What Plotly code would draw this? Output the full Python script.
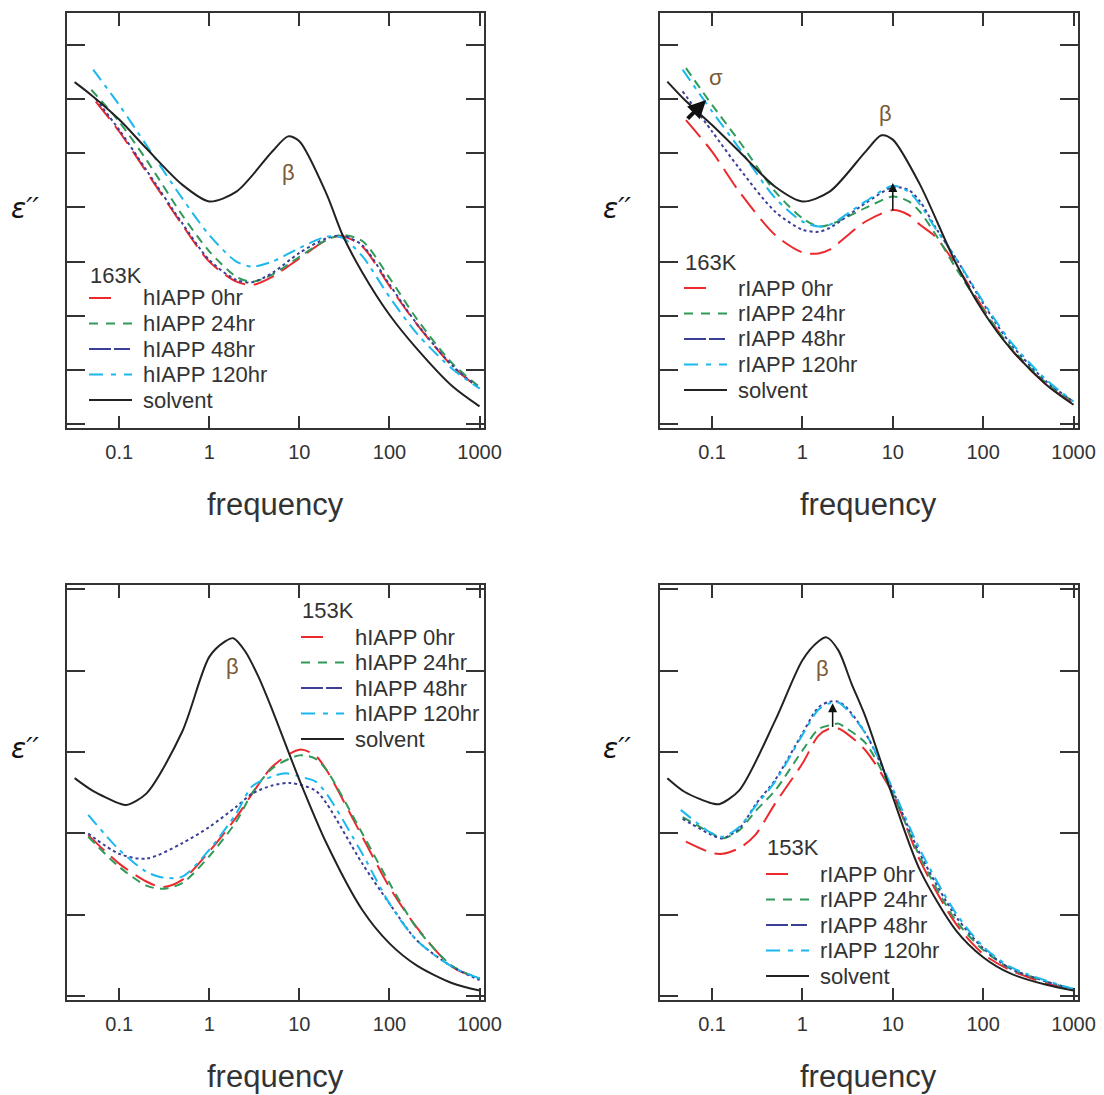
import math
import plotly.graph_objects as go

# ---------------- data (frequency, epsilon'') ----------------
# Panel A: 163K hIAPP
a_sol_f = [0.032, 0.05, 0.1, 0.2, 0.5, 1, 2, 5, 7.5, 10, 20, 30, 50, 100, 200, 500, 1000]
a_sol_e = [6.31, 6.06, 5.62, 5.09, 4.42, 4.11, 4.29, 5.03, 5.31, 5.22, 4.25, 3.50, 2.80, 2.02, 1.40, 0.70, 0.33]
a_f = [0.1, 0.2, 0.5, 1, 2, 3, 5, 10, 20, 30, 50, 100, 200, 500, 1000]
a_0_f0, a_0_e0 = 0.055, 5.95
a_0_e = [5.40, 4.66, 3.68, 3.00, 2.63, 2.57, 2.72, 3.06, 3.40, 3.47, 3.28, 2.55, 1.85, 1.07, 0.66]
a_24_f0, a_24_e0 = 0.049, 6.17
a_24_e = [5.58, 4.88, 3.86, 3.19, 2.72, 2.63, 2.76, 3.09, 3.40, 3.49, 3.38, 2.70, 1.95, 1.12, 0.69]
a_48_f0, a_48_e0 = 0.055, 6.00
a_48_e = [5.43, 4.69, 3.71, 3.03, 2.66, 2.62, 2.79, 3.16, 3.43, 3.48, 3.30, 2.58, 1.86, 1.08, 0.66]
a_120_f0, a_120_e0 = 0.0514, 6.54
a_120_e = [5.89, 5.15, 4.17, 3.49, 3.00, 2.91, 3.00, 3.25, 3.46, 3.44, 3.10, 2.35, 1.68, 1.02, 0.66]

# Panel B: 163K rIAPP
b_sol_f = [0.032, 0.05, 0.1, 0.2, 0.5, 1, 2, 5, 7.5, 10, 20, 50, 100, 200, 500, 1000]
b_sol_e = [6.32, 5.98, 5.52, 5.03, 4.38, 4.11, 4.29, 5.03, 5.33, 5.25, 4.42, 2.97, 2.08, 1.40, 0.73, 0.36]
b_f = [0.1, 0.2, 0.5, 1, 1.5, 2, 5, 10, 15, 20, 30, 50, 100, 200, 500, 1000]
b_0_f0, b_0_e0 = 0.0514, 5.61
b_0_e = [5.03, 4.29, 3.49, 3.17, 3.15, 3.22, 3.74, 3.95, 3.86, 3.68, 3.45, 2.94, 2.14, 1.40, 0.73, 0.39]
b_24_f0, b_24_e0 = 0.0514, 6.57
b_24_e = [5.89, 5.22, 4.29, 3.80, 3.65, 3.68, 3.99, 4.20, 4.11, 3.92, 3.49, 2.88, 2.11, 1.43, 0.76, 0.42]
b_48_f0, b_48_e0 = 0.0472, 6.14
b_48_e = [5.40, 4.72, 3.92, 3.59, 3.55, 3.62, 4.08, 4.37, 4.32, 4.11, 3.62, 3.06, 2.23, 1.49, 0.79, 0.42]
b_120_f0, b_120_e0 = 0.0472, 6.54
b_120_e = [5.77, 5.09, 4.17, 3.74, 3.65, 3.68, 4.11, 4.40, 4.29, 4.05, 3.60, 3.06, 2.26, 1.53, 0.82, 0.42]

# Panel C: 153K hIAPP
c_sol_f = [0.032, 0.05, 0.1, 0.12, 0.2, 0.5, 1, 1.5, 1.85, 2.5, 3.5, 5, 10, 20, 50, 100, 200, 500, 1000]
c_sol_e = [2.68, 2.53, 2.37, 2.35, 2.49, 3.25, 4.17, 4.36, 4.40, 4.24, 3.93, 3.52, 2.66, 1.88, 1.06, 0.65, 0.38, 0.16, 0.07]
c_f = [0.0453, 0.1, 0.2, 0.3, 0.5, 1, 2, 3, 5, 10, 15, 20, 50, 100, 200, 500, 1000]
c_0_e = [1.98, 1.63, 1.41, 1.34, 1.43, 1.78, 2.20, 2.49, 2.82, 3.03, 2.96, 2.78, 1.96, 1.34, 0.85, 0.36, 0.22]
c_24_e = [1.96, 1.59, 1.36, 1.32, 1.39, 1.72, 2.15, 2.50, 2.80, 2.96, 2.92, 2.78, 2.00, 1.39, 0.84, 0.37, 0.22]
c_48_f = [0.0453, 0.1, 0.2, 0.5, 1, 2, 3, 5, 8, 15, 20, 50, 100, 200, 500, 1000]
c_48_e = [2.00, 1.75, 1.69, 1.88, 2.08, 2.33, 2.49, 2.59, 2.62, 2.53, 2.37, 1.63, 1.14, 0.69, 0.36, 0.20]
c_120_f = [0.0453, 0.1, 0.2, 0.3, 0.5, 1, 2, 3, 5, 7, 10, 15, 20, 50, 100, 200, 500, 1000]
c_120_e = [2.23, 1.80, 1.53, 1.46, 1.47, 1.80, 2.25, 2.58, 2.70, 2.74, 2.70, 2.64, 2.49, 1.75, 1.14, 0.69, 0.36, 0.22]

# Panel D: 153K rIAPP
d_sol_f = [0.032, 0.05, 0.1, 0.12, 0.2, 0.5, 1, 1.5, 1.85, 2.5, 3.5, 5, 10, 20, 50, 100, 200, 500, 1000]
d_sol_e = [2.68, 2.51, 2.37, 2.36, 2.53, 3.39, 4.13, 4.36, 4.41, 4.25, 3.84, 3.43, 2.45, 1.55, 0.81, 0.48, 0.28, 0.14, 0.07]
d_f = [0.1, 0.13, 0.2, 0.3, 0.5, 1, 1.5, 2, 2.5, 3, 5, 10, 20, 50, 100, 200, 500, 1000]
d_0_f0, d_0_e0 = 0.0514, 1.90
d_0_e = [1.76, 1.75, 1.82, 1.98, 2.37, 2.86, 3.20, 3.29, 3.29, 3.24, 3.02, 2.49, 1.67, 0.89, 0.52, 0.32, 0.16, 0.07]
d_24_f0, d_24_e0 = 0.0472, 2.20
d_24_e = [2.00, 1.94, 2.04, 2.27, 2.53, 3.02, 3.28, 3.33, 3.35, 3.30, 3.11, 2.49, 1.71, 0.93, 0.57, 0.34, 0.18, 0.08]
d_48_f0, d_48_e0 = 0.0472, 2.18
d_48_e = [1.98, 1.94, 2.06, 2.35, 2.66, 3.23, 3.55, 3.62, 3.62, 3.56, 3.23, 2.53, 1.75, 0.98, 0.59, 0.34, 0.18, 0.09]
d_120_f0, d_120_e0 = 0.045, 2.29
d_120_e = [2.00, 1.96, 2.08, 2.33, 2.64, 3.21, 3.52, 3.60, 3.61, 3.54, 3.23, 2.55, 1.80, 1.02, 0.61, 0.36, 0.19, 0.09]

tick_vals = [0.1, 1, 10, 100, 1000]
tick_text = ["0.1", "1", "10", "100", "1000"]
series_keys = ["0hr", "24hr", "48hr", "120hr", "solvent"]

# ---------------- styles ----------------
FONT = "Liberation Sans, Arial, sans-serif"
TXT = "#333333"
RED, GREEN, BLUE, CYAN, BLACK = "#ec2a2e", "#2f9a5a", "#3b3f96", "#1bb8ee", "#222222"
STY = {
    "0hr": dict(color=RED, dash="22px,9px", width=2),
    "24hr": dict(color=GREEN, dash="9px,6px", width=2),
    "48hr": dict(color=BLUE, dash="dot", width=2),
    "120hr": dict(color=CYAN, dash="13px,6px,4px,6px", width=2),
    "solvent": dict(color=BLACK, width=2),
}
LEG_STY = {
    "0hr": dict(color=RED, dash="22px,30px", width=2),
    "24hr": dict(color=GREEN, dash="9px,8px", width=2),
    "48hr": dict(color=BLUE, dash="22px,3px,16px,3px", width=2),
    "120hr": dict(color=CYAN, dash="14px,8px,5px,8px", width=2),
    "solvent": dict(color=BLACK, width=2),
}

# target picture is 1104 x 1095; layout positions below are in those pixels
REF_W, REF_H = 1104, 1095
FIG_W, FIG_H = 1122, 1095
def px_x(p): return p / REF_W
def px_y(p): return 1 - p / REF_H

fig = go.Figure()

panels = [
    ("hIAPP", "163K", ("x", "y"),
     [([a_0_f0] + a_f, [a_0_e0] + a_0_e), ([a_24_f0] + a_f, [a_24_e0] + a_24_e),
      ([a_48_f0] + a_f, [a_48_e0] + a_48_e), ([a_120_f0] + a_f, [a_120_e0] + a_120_e),
      (a_sol_f, a_sol_e)], (88, 275, 298)),
    ("rIAPP", "163K", ("x2", "y2"),
     [([b_0_f0] + b_f, [b_0_e0] + b_0_e), ([b_24_f0] + b_f, [b_24_e0] + b_24_e),
      ([b_48_f0] + b_f, [b_48_e0] + b_48_e), ([b_120_f0] + b_f, [b_120_e0] + b_120_e),
      (b_sol_f, b_sol_e)], (683, 262, 288)),
    ("hIAPP", "153K", ("x3", "y3"),
     [(c_f, c_0_e), (c_f, c_24_e), (c_48_f, c_48_e), (c_120_f, c_120_e), (c_sol_f, c_sol_e)],
     (300, 610, 637)),
    ("rIAPP", "153K", ("x4", "y4"),
     [([d_0_f0] + d_f, [d_0_e0] + d_0_e), ([d_24_f0] + d_f, [d_24_e0] + d_24_e),
      ([d_48_f0] + d_f, [d_48_e0] + d_48_e), ([d_120_f0] + d_f, [d_120_e0] + d_120_e),
      (d_sol_f, d_sol_e)], (765, 847, 874)),
]

shapes, ann = [], []
ROW = 25.5
for prefix, temp, ax, series, (lx, ty, fy) in panels:
    ann.append(dict(text=temp, x=px_x(lx), y=px_y(ty), xref="paper", yref="paper", xanchor="left",
                    yanchor="middle", showarrow=False, font=dict(family=FONT, size=22, color=TXT)))
    for i, (key, (fx, ey)) in enumerate(zip(series_keys, series)):
        name = "solvent" if key == "solvent" else f"{prefix} {key}"
        fig.add_trace(go.Scatter(x=fx, y=ey, mode="lines", name=name, showlegend=False,
                                 line=dict(shape="spline", smoothing=0.8, **STY[key]),
                                 xaxis=ax[0], yaxis=ax[1]))
        ry = fy + i * ROW
        shapes.append(dict(type="line", xref="paper", yref="paper", x0=px_x(lx + 1), x1=px_x(lx + 44),
                           y0=px_y(ry), y1=px_y(ry), line=LEG_STY[key]))
        ann.append(dict(text=name, x=px_x(lx + 53), y=px_y(ry), xref="paper", yref="paper",
                        xanchor="left", yanchor="middle", showarrow=False,
                        font=dict(family=FONT, size=22, color=TXT)))

xdom_l = [px_x(67.3), px_x(483.5)]
xdom_r = [px_x(660.0), px_x(1077.5)]
ydom_t = [px_y(428.3), px_y(13.3)]
ydom_b = [px_y(1000.3), px_y(585.3)]

xcommon = dict(type="log", range=[-1.576, 3.044], tickvals=tick_vals, ticktext=tick_text,
               ticks="inside", ticklen=13, tickwidth=1.6, tickcolor="#333", mirror="allticks",
               showline=True, linecolor="#333", linewidth=1.6, showgrid=False, zeroline=False,
               tickfont=dict(family=FONT, size=20, color=TXT), ticklabelstandoff=5)
ycommon = dict(dtick=1, tick0=0, ticks="inside", ticklen=18, tickwidth=1.6, tickcolor="#333",
               mirror="allticks", showline=True, linecolor="#333", linewidth=1.6,
               showgrid=False, zeroline=False, showticklabels=False)

layout = dict(width=FIG_W, height=FIG_H, margin=dict(l=0, r=0, t=0, b=0),
              paper_bgcolor="white", plot_bgcolor="white", showlegend=False)
layout["xaxis"] = dict(domain=xdom_l, anchor="y", **xcommon)
layout["yaxis"] = dict(domain=ydom_t, anchor="x", range=[-0.074, 7.58], **ycommon)
layout["xaxis2"] = dict(domain=xdom_r, anchor="y2", **xcommon)
layout["yaxis2"] = dict(domain=ydom_t, anchor="x2", range=[-0.074, 7.58], **ycommon)
layout["xaxis3"] = dict(domain=xdom_l, anchor="y3", **xcommon)
layout["yaxis3"] = dict(domain=ydom_b, anchor="x3", range=[-0.05, 5.05], **ycommon)
layout["xaxis4"] = dict(domain=xdom_r, anchor="y4", **xcommon)
layout["yaxis4"] = dict(domain=ydom_b, anchor="x4", range=[-0.05, 5.05], **ycommon)
fig.update_layout(**layout)

for xc, yc in [((67.3 + 483.5) / 2, 504), ((660 + 1077.5) / 2, 504),
               ((67.3 + 483.5) / 2, 1076), ((660 + 1077.5) / 2, 1076)]:
    ann.append(dict(text="frequency", x=px_x(xc), y=px_y(yc), xref="paper", yref="paper",
                    xanchor="center", yanchor="middle", showarrow=False,
                    font=dict(family=FONT, size=31, color=TXT)))
for xc, yc in [(25, 208), (617, 208), (25, 748), (617, 748)]:
    ann.append(dict(text="<i>ε′′</i>", x=px_x(xc), y=px_y(yc), xref="paper", yref="paper",
                    xanchor="center", yanchor="middle", showarrow=False,
                    font=dict(family="DejaVu Sans, sans-serif", size=28, color="#111")))

GREEK = "#7a5a38"
beta_pos = [("x", "y", 7.5, 4.65), ("x2", "y2", 8.3, 5.74), ("x3", "y3", 1.79, 4.05), ("x4", "y4", 1.67, 4.03)]
for xa, ya, f, e in beta_pos:
    ann.append(dict(text="β", x=math.log10(f), y=e, xref=xa, yref=ya, showarrow=False,
                    font=dict(family=FONT, size=22, color=GREEK)))
ann.append(dict(text="σ", x=math.log10(0.111), y=6.39, xref="x2", yref="y2", showarrow=False,
                font=dict(family=FONT, size=22, color=GREEK)))

sigma_tail, sigma_head = (0.0517, 5.61), (0.086, 5.98)
ann.append(dict(x=math.log10(sigma_head[0]), y=sigma_head[1], ax=math.log10(sigma_tail[0]), ay=sigma_tail[1],
                xref="x2", yref="y2", axref="x2", ayref="y2", showarrow=True, arrowhead=2,
                arrowsize=0.9, arrowwidth=4, arrowcolor="#111", text=""))
ann.append(dict(x=math.log10(10), y=4.45, ax=math.log10(10), ay=3.92, xref="x2", yref="y2",
                axref="x2", ayref="y2", showarrow=True, arrowhead=2, arrowsize=1.2, arrowwidth=1.5,
                arrowcolor="#111", text=""))
ann.append(dict(x=math.log10(2.16), y=3.60, ax=math.log10(2.16), ay=3.29, xref="x4", yref="y4",
                axref="x4", ayref="y4", showarrow=True, arrowhead=2, arrowsize=1.2, arrowwidth=1.5,
                arrowcolor="#111", text=""))
fig.update_layout(annotations=ann, shapes=shapes)

fig.write_html("out.html")
